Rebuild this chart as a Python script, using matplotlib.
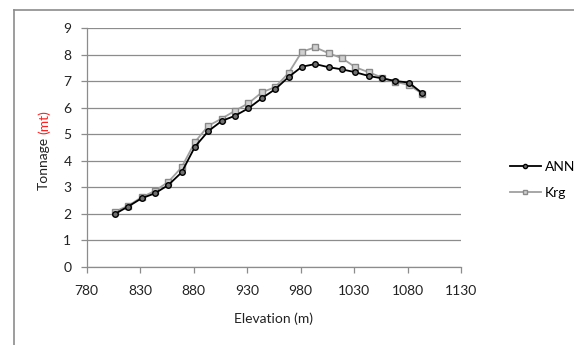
import matplotlib
matplotlib.use("Agg")
from matplotlib import pyplot as plt
from matplotlib.lines import Line2D
import numpy as np

plt.rcParams['font.family'] = ['Lato', 'DejaVu Sans']

# elevation of each bench (m)
elevation = np.arange(806.25, 1100, 12.5)

ann = [1.99, 2.27, 2.58, 2.77, 3.08, 3.56, 4.53, 5.12, 5.50, 5.70, 5.98, 6.36,
       6.70, 7.16, 7.55, 7.65, 7.53, 7.45, 7.34, 7.20, 7.11, 7.01, 6.95, 6.55]
krg = [2.08, 2.30, 2.62, 2.86, 3.20, 3.75, 4.71, 5.32, 5.59, 5.89, 6.17, 6.58,
       6.78, 7.31, 8.12, 8.28, 8.06, 7.87, 7.53, 7.34, 7.14, 6.98, 6.86, 6.53]

x_ticks = [780, 830, 880, 930, 980, 1030, 1080, 1130]
y_ticks = list(range(0, 10))

W, H = 574, 345
fig = plt.figure(figsize=(W/100, H/100), dpi=100)
ax = fig.add_axes([86.7/W, 1-266.7/H, (461-86.7)/W, (266.7-28.3)/H])

ax.plot(elevation, ann, '-o', color='black', lw=1.3, ms=4,
        mfc='#707070', mec='black', mew=1.0, label='ANN', zorder=4)
ax.plot(elevation, krg, '-s', color='#a0a0a0', lw=1.3, ms=4,
        mfc='#d0d0d0', mec='#8a8a8a', mew=1.0, label='Krg', zorder=3)

ax.set_xlim(780, 1130)
ax.set_ylim(0, 9)
ax.set_xticks(x_ticks)
ax.set_yticks(y_ticks)
ax.grid(axis='y', color='#8c8c8c', lw=0.9)
ax.set_axisbelow(True)
for s in ['top', 'right']:
    ax.spines[s].set_visible(False)
for s in ['left', 'bottom']:
    ax.spines[s].set_color('#8c8c8c')
    ax.spines[s].set_linewidth(0.9)
ax.tick_params(axis='both', colors='#8c8c8c', labelcolor='#222222',
               labelsize=10, length=4, width=0.9)
ax.tick_params(axis='x', pad=9)
ax.tick_params(axis='y', pad=7)

ax.set_xlabel('Elevation (m)', fontsize=10, color='#222222', labelpad=11)

# y label in two colours: place "(mt)" just above "Tonnage"
t1 = fig.text(44/W, 1-190/H, 'Tonnage', rotation=90, ha='center', va='bottom',
              fontsize=10, color='#222222')
fig.canvas.draw()
bb = t1.get_window_extent()
fig.text(44/W, (bb.y1 + 3)/H, '(mt)', rotation=90, ha='center', va='bottom',
         fontsize=10, color='#ff2020')

ax.legend(loc='center left', bbox_to_anchor=(497/W, 1-180/H),
          bbox_transform=fig.transFigure, frameon=False, fontsize=10,
          handlelength=2.3, handletextpad=0.25, labelspacing=1.0,
          markerscale=0.75)

# chart area border (left and top edges visible)
fig.add_artist(Line2D([14/W, 14/W], [0, 1-10/H], color='#8c8c8c', lw=1.2))
fig.add_artist(Line2D([14/W, 1], [1-10/H, 1-10/H], color='#8c8c8c', lw=1.2))

fig.savefig('out.png', dpi=100)
